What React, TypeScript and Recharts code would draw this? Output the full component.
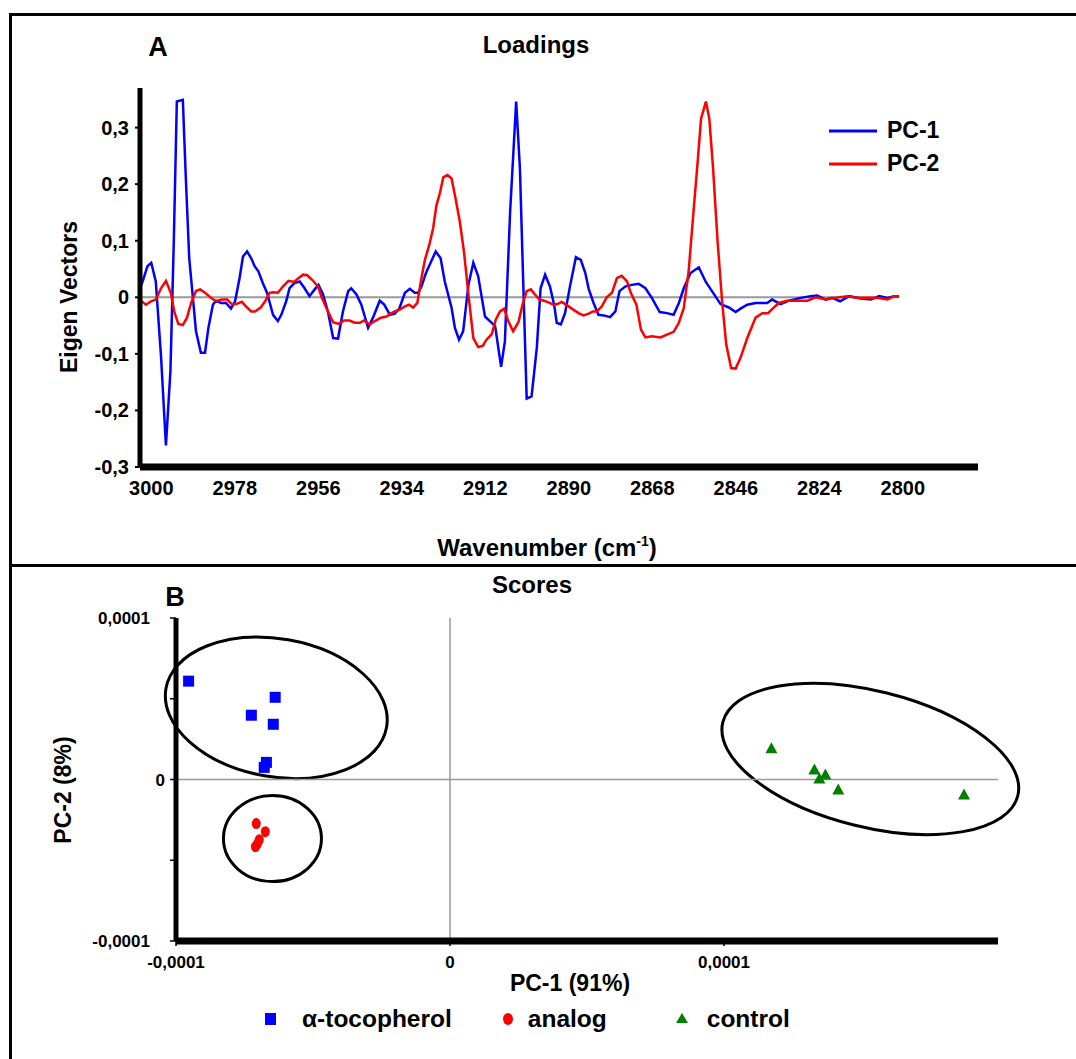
import React from 'react';
import * as R from 'recharts';
import { LineChart, Line, XAxis, YAxis, ReferenceLine, Legend, ScatterChart, Scatter } from 'recharts';

const FONT = '"Liberation Sans", Arial, Helvetica, sans-serif';

/* Panel A: loadings (wavenumber in cm-1) */
const pc1Wavenumbers = [
  3002.6, 3001.0, 3000.0, 2998.8, 2997.4, 2996.1, 2994.9, 2994.0, 2993.2, 2991.6, 2990.8, 2989.9, 2988.1, 2986.8,
  2985.7, 2984.8, 2983.6, 2982.8, 2981.4, 2980.1, 2978.8, 2977.7, 2976.5, 2975.6, 2974.5, 2973.4, 2972.5, 2971.5,
  2970.3, 2969.2, 2967.6, 2966.3, 2965.4, 2964.1, 2963.2, 2961.9, 2960.5, 2959.2, 2957.9, 2956.5, 2955.5, 2954.3,
  2953.0, 2951.6, 2950.3, 2949.0, 2947.6, 2946.8, 2945.4, 2944.1, 2942.3, 2941.0, 2939.2, 2938.0, 2936.5, 2935.2,
  2934.0, 2932.5, 2931.2, 2929.9, 2929.0, 2928.1, 2926.9, 2925.4, 2924.3, 2923.0, 2921.9, 2920.1, 2919.2, 2918.1,
  2917.0, 2915.6, 2914.3, 2913.0, 2911.2, 2909.9, 2908.5, 2906.9, 2905.9, 2904.5, 2902.9, 2901.9, 2901.0, 2900.1,
  2898.8, 2897.4, 2896.4, 2895.2, 2893.9, 2892.8, 2892.1, 2891.0, 2889.9, 2888.5, 2887.0, 2885.7, 2884.5, 2883.6,
  2882.3, 2881.0, 2879.6, 2877.9, 2876.5, 2875.4, 2873.9, 2872.1, 2870.3, 2868.5, 2866.8, 2864.7, 2862.8, 2861.0,
  2859.6, 2858.3, 2856.5, 2854.3, 2852.5, 2850.8, 2848.5, 2846.3, 2844.5, 2843.2, 2841.4, 2839.2, 2836.1, 2834.8,
  2832.5, 2830.3, 2827.2, 2824.5, 2822.8, 2820.5, 2818.8, 2816.7, 2814.3, 2811.2, 2808.5, 2806.3, 2804.1, 2802.3,
  2801.0,
];
const pc1Values = [
  0.022, 0.055, 0.061, 0.028, -0.105, -0.262, -0.13, 0.1, 0.346, 0.349, 0.21, 0.069, -0.06, -0.098,
  -0.098, -0.054, -0.013, -0.006, -0.01, -0.01, -0.02, -0.007, 0.034, 0.072, 0.081, 0.069, 0.055, 0.046,
  0.025, 0.008, -0.031, -0.042, -0.031, -0.007, 0.016, 0.025, 0.028, 0.016, 0.002, 0.014, 0.022, 0.005,
  -0.025, -0.072, -0.073, -0.025, 0.011, 0.016, 0.005, -0.013, -0.054, -0.036, -0.006, -0.013, -0.031, -0.029,
  -0.02, 0.008, 0.015, 0.008, 0.008, 0.019, 0.043, 0.065, 0.081, 0.069, 0.028, -0.018, -0.054, -0.075,
  -0.06, 0.022, 0.061, 0.037, -0.034, -0.042, -0.051, -0.123, -0.078, 0.152, 0.346, 0.228, 0.022, -0.179,
  -0.175, -0.089, 0.016, 0.04, 0.019, -0.013, -0.045, -0.048, -0.028, 0.022, 0.071, 0.066, 0.043, 0.015,
  -0.01, -0.031, -0.032, -0.035, -0.025, 0.011, 0.019, 0.022, 0.024, 0.016, -0.001, -0.026, -0.028, -0.031,
  -0.01, 0.016, 0.043, 0.053, 0.028, 0.011, -0.012, -0.018, -0.026, -0.02, -0.013, -0.01, -0.01, -0.004,
  -0.012, -0.006, -0.001, 0.002, 0.003, -0.004, -0.001, -0.007, 0.002, -0.002, -0.004, 0.002, -0.001, 0.002,
  0.002,
];

const pc2Wavenumbers = [
  3002.6, 3001.4, 3000.1, 2998.8, 2997.4, 2996.1, 2994.8, 2993.9, 2992.8, 2991.6, 2990.5, 2989.4, 2988.1, 2987.0,
  2985.7, 2984.1, 2982.8, 2981.2, 2979.8, 2978.6, 2977.4, 2975.9, 2974.8, 2973.4, 2972.4, 2970.9, 2969.7, 2968.5,
  2967.6, 2966.3, 2965.0, 2963.5, 2962.0, 2961.0, 2959.6, 2958.5, 2957.2, 2955.6, 2954.6, 2953.4, 2951.6, 2950.1,
  2948.7, 2947.2, 2945.9, 2944.5, 2943.4, 2941.9, 2940.5, 2938.9, 2937.4, 2936.1, 2935.2, 2933.9, 2932.5, 2931.4,
  2930.3, 2929.2, 2928.1, 2927.2, 2926.0, 2925.0, 2924.1, 2923.2, 2922.3, 2921.2, 2920.1, 2919.2, 2917.9, 2916.8,
  2915.6, 2914.3, 2913.0, 2911.8, 2910.8, 2909.4, 2908.3, 2907.2, 2906.1, 2905.0, 2903.7, 2902.3, 2901.2, 2900.1,
  2899.0, 2897.9, 2896.7, 2895.5, 2894.0, 2893.0, 2891.9, 2890.8, 2889.6, 2888.1, 2886.3, 2885.0, 2883.6, 2882.5,
  2881.4, 2880.1, 2878.8, 2877.4, 2876.1, 2874.8, 2873.4, 2872.4, 2870.9, 2869.7, 2868.5, 2866.8, 2864.5, 2862.8,
  2861.0, 2859.6, 2858.3, 2857.0, 2855.7, 2854.6, 2853.7, 2852.4, 2851.5, 2850.5, 2849.3, 2848.1, 2847.0, 2845.7,
  2844.5, 2843.2, 2841.4, 2839.2, 2837.4, 2835.9, 2834.5, 2833.0, 2830.8, 2828.1, 2825.4, 2823.2, 2820.5, 2818.3,
  2814.8, 2812.1, 2809.4, 2806.8, 2804.1, 2802.3, 2801.0,
];
const pc2Values = [
  -0.007, -0.013, -0.007, -0.004, 0.016, 0.029, 0.008, -0.025, -0.047, -0.049, -0.036, -0.01, 0.011, 0.014,
  0.008, -0.001, -0.007, -0.004, -0.004, -0.012, -0.012, -0.008, -0.016, -0.025, -0.025, -0.018, -0.007, 0.008,
  0.009, 0.008, 0.019, 0.029, 0.027, 0.033, 0.04, 0.039, 0.031, 0.019, -0.001, -0.019, -0.044, -0.047,
  -0.041, -0.041, -0.045, -0.045, -0.041, -0.048, -0.042, -0.036, -0.034, -0.028, -0.025, -0.022, -0.016, -0.013,
  -0.018, -0.01, 0.034, 0.066, 0.093, 0.122, 0.163, 0.184, 0.212, 0.216, 0.21, 0.181, 0.134, 0.081,
  0.005, -0.072, -0.088, -0.086, -0.075, -0.065, -0.039, -0.025, -0.02, -0.042, -0.06, -0.044, -0.013, 0.011,
  0.014, 0.005, -0.004, -0.006, -0.01, -0.013, -0.012, -0.008, -0.013, -0.02, -0.028, -0.032, -0.029, -0.025,
  -0.025, -0.016, 0, 0.008, 0.034, 0.038, 0.028, 0.008, -0.013, -0.057, -0.071, -0.069, -0.071, -0.066,
  -0.061, -0.045, -0.019, 0.046, 0.152, 0.24, 0.316, 0.346, 0.316, 0.228, 0.099, -0.007, -0.083, -0.125,
  -0.126, -0.107, -0.072, -0.036, -0.028, -0.028, -0.019, -0.01, -0.006, -0.006, -0.006, 0, -0.004, -0.001,
  0.002, -0.001, -0.001, -0.001, -0.004, 0.002, 0.002,
];

const wavenumberLabels = ['3000', '2978', '2956', '2934', '2912', '2890', '2868', '2846', '2824', '2800'];
const eigenTicks = [-0.3, -0.2, -0.1, 0, 0.1, 0.2, 0.3];

/* Panel B: scores */
const scoreGroups = ['α-tocopherol', 'analog', 'control'];
const tocopherolPc1 = [-0.0000954, -0.0000638, -0.0000725, -0.0000645, -0.000067, -0.0000678];
const tocopherolPc2 = [0.0000609, 0.0000509, 0.0000398, 0.0000342, 0.0000106, 0.0000075];
const analogPc1 = [-0.0000707, -0.0000674, -0.0000696, -0.0000703, -0.000071];
const analogPc2 = [-0.0000273, -0.0000323, -0.0000373, -0.0000398, -0.0000416];
const controlPc1 = [0.0001173, 0.000133, 0.000137, 0.0001348, 0.0001417, 0.0001876];
const controlPc2 = [0.0000193, 0.0000062, 0.0000031, 0.0000006, -0.0000062, -0.0000093];

const scoreXTicks = [-0.0001, 0, 0.0001];
const scoreXLabels = ['-0,0001', '0', '0,0001'];
const scoreYTicks = [-0.0001, -0.00005, 0, 0.00005, 0.0001];
const scoreYLabels = ['-0,0001', '', '0', '', '0,0001'];

// group outlines: centre in score units, semi-axes in px, tilt in degrees
const clusterRings = [
  { x: -0.0000634, y: 0.0000444, rx: 112, ry: 69, angle: 10 },
  { x: -0.0000648, y: -0.0000366, rx: 49, ry: 43, angle: 0 },
  { x: 0.0001534, y: 0.0000127, rx: 152, ry: 68, angle: 14 },
];

const SCORE_X_DOMAIN: [number, number] = [-0.0001, 0.0002];
const SCORE_Y_DOMAIN: [number, number] = [-0.0001, 0.0001];

const pc1Data = pc1Wavenumbers.map((w, i) => ({ w, v: pc1Values[i] }));
const pc2Data = pc2Wavenumbers.map((w, i) => ({ w, v: pc2Values[i] }));
const wavenumberTicks = wavenumberLabels.map((_, i) => 3000 - (i * 200) / (wavenumberLabels.length - 1));

const toPoints = (xs: number[], ys: number[]) => xs.map((x, i) => ({ x, y: ys[i] }));
const tocopherolData = toPoints(tocopherolPc1, tocopherolPc2);
const analogData = toPoints(analogPc1, analogPc2);
const controlData = toPoints(controlPc1, controlPc2);

const commaNum = (v: number) => (v === 0 ? '0' : v.toFixed(1).replace('.', ','));

const Txt: React.FC<{ x: number; y: number; size: number; rotate?: boolean; children: React.ReactNode }> = ({ x, y, size, rotate, children }) => (
  <div
    style={{
      position: 'absolute',
      left: x,
      top: y,
      transform: `translate(-50%, -50%)${rotate ? ' rotate(-90deg)' : ''}`,
      fontFamily: FONT,
      fontWeight: 'bold',
      fontSize: size,
      lineHeight: 1,
      whiteSpace: 'nowrap',
      color: '#000',
    }}
  >
    {children}
  </div>
);

const WaveTick = (props: any) => {
  const { x, y, index } = props;
  return (
    <text x={x} y={y + 28} textAnchor="middle" fontSize={20} fontWeight="bold" fontFamily={FONT} fill="#000">
      {wavenumberLabels[index]}
    </text>
  );
};

const EigenTick = (props: any) => {
  const { x, y, payload } = props;
  return (
    <text x={x} y={y + 7} textAnchor="end" fontSize={20} fontWeight="bold" fontFamily={FONT} fill="#000">
      {commaNum(payload.value)}
    </text>
  );
};

const ScoreXTick = (props: any) => {
  const { x, y, index } = props;
  return (
    <text x={x} y={y + 20} textAnchor="middle" fontSize={17} fontWeight="bold" fontFamily={FONT} fill="#000">
      {scoreXLabels[index]}
    </text>
  );
};

const ScoreYTick = (props: any) => {
  const { x, y, index } = props;
  const label = scoreYLabels[index];
  return (
    <text x={label === '0' ? x : x - 15} y={y + 6} textAnchor="end" fontSize={17} fontWeight="bold" fontFamily={FONT} fill="#000">
      {label}
    </text>
  );
};

const LoadingsLegend = (props: any) => {
  const items = props.payload || [];
  return (
    <div>
      {items.map((p: any) => (
        <div key={p.value} style={{ display: 'flex', alignItems: 'center', height: 33 }}>
          <svg width={48} height={6}>
            <line x1={0} y1={3} x2={48} y2={3} stroke={p.color} strokeWidth={3} />
          </svg>
          <span style={{ marginLeft: 10, fontFamily: FONT, fontWeight: 'bold', fontSize: 23, color: '#000' }}>{p.value}</span>
        </div>
      ))}
    </div>
  );
};

const legendIcon = (name: string, color: string) => {
  if (name === 'analog') return <ellipse cx={7} cy={7} rx={5} ry={6} fill={color} />;
  if (name === 'control') return <polygon points="7,1 1,11 13,11" fill={color} />;
  return <rect x={1} y={1} width={11} height={12} fill={color} />;
};

const ScoresLegend = (props: any) => {
  const items = [...(props.payload || [])].sort(
    (a: any, b: any) => scoreGroups.indexOf(a.value) - scoreGroups.indexOf(b.value),
  );
  const gaps = [24, 13, 18];
  const after = [49, 68, 0];
  return (
    <div style={{ display: 'flex', alignItems: 'center' }}>
      {items.map((p: any, i: number) => (
        <div key={p.value} style={{ display: 'flex', alignItems: 'center', marginRight: after[i] }}>
          <svg width={14} height={14}>{legendIcon(p.value, p.color)}</svg>
          <span style={{ marginLeft: gaps[i], fontFamily: FONT, fontWeight: 'bold', fontSize: 24.5, color: '#000' }}>{p.value}</span>
        </div>
      ))}
    </div>
  );
};

const SquareDot = (p: any) => <rect x={p.cx - 5.5} y={p.cy - 5.5} width={11} height={11} fill="#0000FF" />;
const RoundDot = (p: any) => <ellipse cx={p.cx} cy={p.cy} rx={4.5} ry={5.5} fill="#FF0000" />;
const TriangleDot = (p: any) => (
  <polygon points={`${p.cx},${p.cy - 6} ${p.cx - 6},${p.cy + 5} ${p.cx + 6},${p.cy + 5}`} fill="#008000" />
);

const usePlotAreaHook: any = (R as any).usePlotArea;

const ClusterRings = () => {
  const area = usePlotAreaHook ? usePlotAreaHook() : undefined;
  const plot = area ?? { x: 176, y: 51, width: 822, height: 323 };
  const toX = (v: number) => plot.x + ((v - SCORE_X_DOMAIN[0]) / (SCORE_X_DOMAIN[1] - SCORE_X_DOMAIN[0])) * plot.width;
  const toY = (v: number) => plot.y + ((SCORE_Y_DOMAIN[1] - v) / (SCORE_Y_DOMAIN[1] - SCORE_Y_DOMAIN[0])) * plot.height;
  return (
    <g>
      {clusterRings.map((r, i) => {
        const cx = toX(r.x);
        const cy = toY(r.y);
        return (
          <ellipse
            key={i}
            cx={cx}
            cy={cy}
            rx={r.rx}
            ry={r.ry}
            transform={`rotate(${r.angle} ${cx} ${cy})`}
            fill="none"
            stroke="#000"
            strokeWidth={3}
          />
        );
      })}
    </g>
  );
};

export default function App() {
  return (
    <div style={{ position: 'absolute', left: 0, top: 0, width: 1076, height: 1059, background: '#fff', overflow: 'hidden' }}>
      {/* frame */}
      <div style={{ position: 'absolute', left: 9, top: 13, width: 1080, height: 3, background: '#000' }} />
      <div style={{ position: 'absolute', left: 9, top: 13, width: 3, height: 1050, background: '#000' }} />
      <div style={{ position: 'absolute', left: 9, top: 564, width: 1080, height: 3, background: '#000' }} />

      <div style={{ position: 'absolute', left: 0, top: 0 }}>
        <LineChart width={1076} height={567} margin={{ top: 88, right: 98, left: 80, bottom: 60 }}>
          <XAxis
            dataKey="w"
            type="number"
            domain={[2780, 3003]}
            reversed
            allowDataOverflow
            ticks={wavenumberTicks}
            tick={<WaveTick />}
            tickLine={false}
            tickSize={0}
            tickMargin={0}
            interval={0}
            height={40}
            axisLine={{ stroke: '#000', strokeWidth: 7 }}
          />
          <YAxis
            type="number"
            domain={[-0.3, 0.37]}
            allowDataOverflow
            ticks={eigenTicks}
            tick={<EigenTick />}
            tickSize={5}
            tickMargin={6}
            interval={0}
            width={60}
            tickLine={{ stroke: '#000', strokeWidth: 2 }}
            axisLine={{ stroke: '#000', strokeWidth: 5 }}
          />
          <ReferenceLine
            segment={[
              { x: 3003, y: 0 },
              { x: 2801, y: 0 },
            ]}
            stroke="#999"
            strokeWidth={2}
          />
          <Line data={pc1Data} dataKey="v" name="PC-1" type="linear" stroke="#0000FF" strokeWidth={2.5} dot={false} isAnimationActive={false} />
          <Line data={pc2Data} dataKey="v" name="PC-2" type="linear" stroke="#FF0000" strokeWidth={2.5} dot={false} isAnimationActive={false} />
          <Legend
            layout="horizontal"
            verticalAlign="middle"
            align="center"
            content={<LoadingsLegend />}
            wrapperStyle={{ left: 829, top: 114, width: 160 }}
          />
        </LineChart>
      </div>

      <div style={{ position: 'absolute', left: 0, top: 567 }}>
        <ScatterChart width={1076} height={492} margin={{ top: 51, right: 78, left: 116, bottom: 88 }}>
          <XAxis
            dataKey="x"
            type="number"
            domain={SCORE_X_DOMAIN}
            allowDataOverflow
            ticks={scoreXTicks}
            tick={<ScoreXTick />}
            tickSize={5}
            tickMargin={2}
            interval={0}
            height={30}
            tickLine={{ stroke: '#000', strokeWidth: 1.5 }}
            axisLine={{ stroke: '#000', strokeWidth: 7 }}
          />
          <YAxis
            dataKey="y"
            type="number"
            domain={SCORE_Y_DOMAIN}
            allowDataOverflow
            ticks={scoreYTicks}
            tick={<ScoreYTick />}
            tickSize={6}
            tickMargin={5}
            interval={0}
            width={60}
            tickLine={{ stroke: '#000', strokeWidth: 1.5 }}
            axisLine={{ stroke: '#000', strokeWidth: 5 }}
          />
          <ReferenceLine x={0} stroke="#999" strokeWidth={1.5} />
          <ReferenceLine y={0} stroke="#999" strokeWidth={1.5} />
          <ClusterRings />
          <Scatter name={scoreGroups[0]} data={tocopherolData} fill="#0000FF" shape={SquareDot} isAnimationActive={false} />
          <Scatter name={scoreGroups[1]} data={analogData} fill="#FF0000" shape={RoundDot} isAnimationActive={false} />
          <Scatter name={scoreGroups[2]} data={controlData} fill="#008000" shape={TriangleDot} isAnimationActive={false} />
          <Legend
            layout="horizontal"
            verticalAlign="middle"
            align="center"
            content={<ScoresLegend />}
            wrapperStyle={{ left: 264, top: 438, width: 600 }}
          />
        </ScatterChart>
      </div>

      {/* titles and axis names */}
      <Txt x={158} y={47} size={27}>A</Txt>
      <Txt x={536} y={45} size={24}>Loadings</Txt>
      <Txt x={69} y={297} size={23} rotate>Eigen Vectors</Txt>
      <Txt x={547} y={548} size={24}>
        Wavenumber (cm<sup style={{ fontSize: 14, verticalAlign: 'top', position: 'relative', top: -2 }}>-1</sup>)
      </Txt>

      <Txt x={175} y={597} size={27}>B</Txt>
      <Txt x={532} y={585} size={24}>Scores</Txt>
      <Txt x={63} y={790} size={23} rotate>PC-2 (8%)</Txt>
      <Txt x={570} y={983} size={23}>PC-1 (91%)</Txt>
    </div>
  );
}
